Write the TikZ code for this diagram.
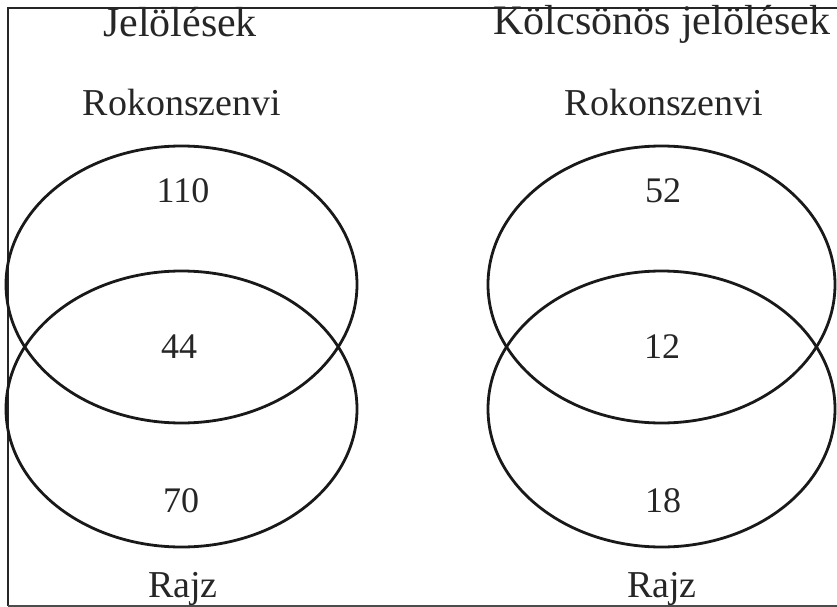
\documentclass[tikz,border=0pt]{standalone}
\usepackage{fontspec}
\setmainfont{Liberation Serif}
\begin{document}
\begin{tikzpicture}[x=1pt,y=-1pt,
  ttl/.style={anchor=base,inner sep=0pt,text=black!85,font=\fontsize{42}{46}\selectfont},
  lbl/.style={anchor=base,inner sep=0pt,text=black!85,font=\fontsize{38}{42}\selectfont},
  num/.style={anchor=base,inner sep=0pt,text=black!85,font=\fontsize{36}{40}\selectfont},
  venn/.style={draw=black!90,line width=2.8pt}]
\useasboundingbox (0,0) rectangle (837,607);
\begin{scope}
\clip (0,0) rectangle (837,607);
\draw[line width=2pt,black!85] (8,605.5) -- (8,8) -- (845,8);
\draw[line width=2pt,black!70] (8,605.5) -- (845,605.5);
\end{scope}
% left Venn
\draw[venn] (181.5,284.5) ellipse [x radius=175.5, y radius=138.5];
\draw[venn] (181.5,409) ellipse [x radius=175.5, y radius=138];
% right Venn
\draw[venn] (661.5,284.5) ellipse [x radius=173.5, y radius=138.5];
\draw[venn] (661.5,409) ellipse [x radius=173.5, y radius=138];
% texts
\node[ttl] (t1) at (180,37) {Jelölések};
\node[ttl] (t2) at (662,35) {Kölcsönös jelölések};
\node[lbl] (r1) at (182,115) {Rokonszenvi};
\node[lbl] (r2) at (664,115) {Rokonszenvi};
\node[num] (a1) at (183,202) {110};
\node[num] (b1) at (179,358) {44};
\node[num] (c1) at (181,512) {70};
\node[num] (a2) at (663,202) {52};
\node[num] (b2) at (662,358) {12};
\node[num] (c2) at (663,512) {18};
\node[lbl] (z1) at (183,597) {Rajz};
\node[lbl] (z2) at (662,597) {Rajz};
\end{tikzpicture}
\end{document}
